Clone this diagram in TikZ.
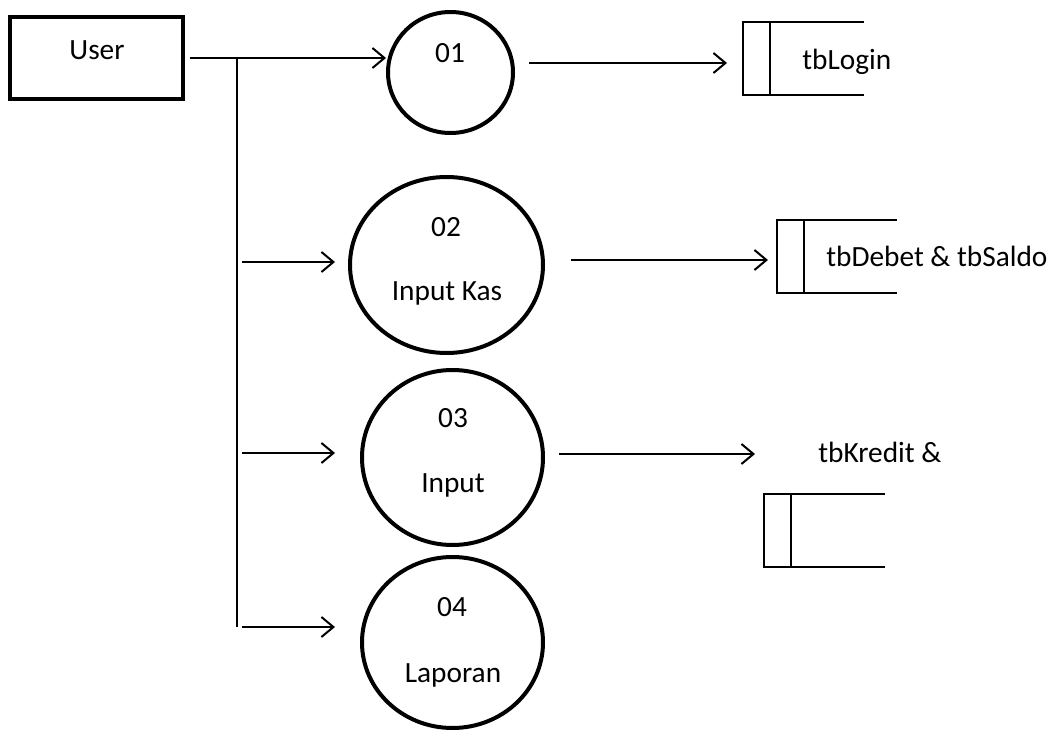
\documentclass[tikz,border=0pt]{standalone}
\usepackage{fontspec}
\setmainfont{Carlito}
\usetikzlibrary{shapes.geometric,arrows.meta}

\begin{document}
\begin{tikzpicture}[x=0.75pt,y=-0.75pt,
	flow/.style={line width=1.5pt,-{Straight Barb[length=9pt,width=15pt,line width=1.5pt]}},
	proc/.style={ellipse,draw,line width=3pt,inner sep=0pt},
	entity/.style={draw,line width=3pt,inner sep=0pt},
	lbl/.style={font=\fontsize{22}{26}\selectfont,inner sep=0pt},
	store/.style={line width=1.1pt}]
			
			\useasboundingbox (0,0) rectangle (1050,731);
			
			\newcommand{\StoreH}{73}
			\newcommand{\Store}[4]{% name, left, top, right
				\coordinate (#1) at (#2,#3);
				\draw[store] (#4,#3) -- (#2,#3) -- (#2,#3+\StoreH) -- (#4,#3+\StoreH);
				\draw[store] (#2+27,#3) -- (#2+27,#3+\StoreH);
			}
			
			\node[entity,minimum width=129.75pt,minimum height=61.5pt] (user) at (96.5,58) {};
			\node[lbl] (usertxt) at (97,50) {User};
			
			\node[proc,minimum width=93.75pt,minimum height=90.75pt] (p01) at (450.5,72.5) {};
			\node[proc,minimum width=144.75pt,minimum height=132pt] (p02) at (446.5,265) {};
			\node[proc,minimum width=135.75pt,minimum height=131.25pt] (p03) at (452.5,457.5) {};
			\node[proc,minimum width=135.75pt,minimum height=128.25pt] (p04) at (452.5,642.5) {};
			
			\node[lbl] (n01) at (450,53) {01};
			\node[lbl] (n02) at (446,227) {02};
			\node[lbl] (t02) at (447,293) {Input Kas};
			\node[lbl] (n03) at (453,418) {03};
			\node[lbl] (t03) at (453,485) {Input};
			\node[lbl] (n04) at (452,607) {04};
			\node[lbl] (t04) at (453,675) {Laporan};
			
			\Store{login}{743}{22}{864}% tbLogin
			\Store{debet}{777}{220}{897}% tbDebet & tbSaldo
			\Store{kredit}{764}{494}{885}% tbKredit
			\node[lbl,anchor=west] (tlogin) at (802,62) {tbLogin};
			\node[lbl,anchor=west] (tdebet) at (826,256) {tbDebet \& tbSaldo};
			\node[lbl,anchor=west] (tkredit) at (818,452) {tbKredit \&};
			
			\coordinate (fork) at (237,58);
			\coordinate (forkend) at (237,627);
			\coordinate (b2) at (242,262);
			\coordinate (b3) at (242,453);
			\coordinate (b4) at (242,627);
			\coordinate (in1) at (743,63);
			\coordinate (in2) at (777,260);
			\coordinate (in3) at (764,454);
			
			\draw[flow,shorten <=3.5pt] (user.east) -- (user.east -| p01.west);
			\draw[line width=1.2pt] (fork) -- (forkend);
			\draw[flow,shorten >=9.75pt] (b2) -- (b2 -| p02.west);
			\draw[flow,shorten >=18.75pt] (b3) -- (b3 -| p03.west);
			\draw[flow,shorten >=18.75pt] (b4) -- (b4 -| p04.west);
			
			\draw[flow,shorten <=10.5pt,shorten >=12pt] (in1 -| p01.east) -- (in1);
			\draw[flow,shorten <=19.5pt,shorten >=6.75pt] (in2 -| p02.east) -- (in2);
			\draw[flow,shorten <=10.5pt,shorten >=6.75pt] (in3 -| p03.east) -- (in3);
		\end{tikzpicture}
\end{document}
